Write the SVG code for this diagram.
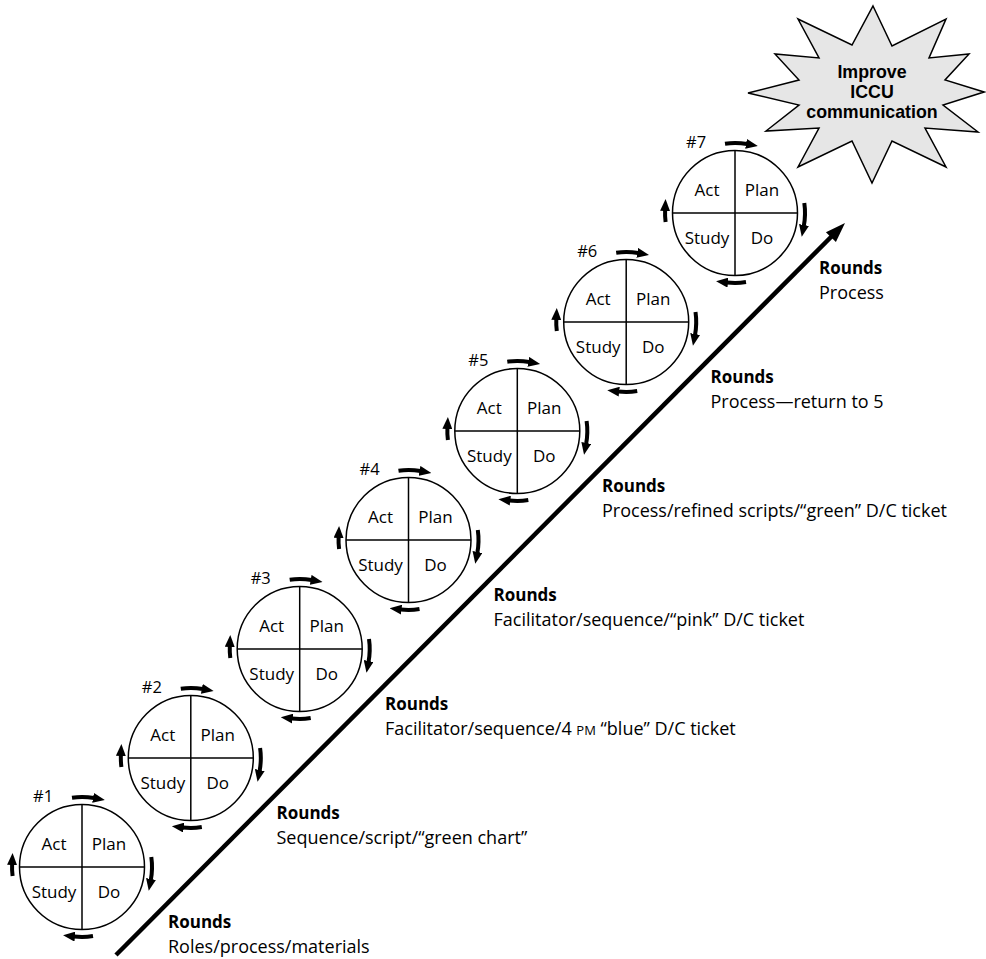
<svg xmlns="http://www.w3.org/2000/svg" width="986" height="959" viewBox="0 0 986 959">
  <style>
    text { font-family: "Open Sans", "Liberation Sans", sans-serif; fill: #000; }
    .q { font-size: 17px; text-anchor: middle; }
    .num { font-size: 16.5px; }
    .rb { font-size: 17px; font-weight: bold; }
    .rt { font-size: 18px; }
    .st { font-family: "Liberation Sans", Arial, sans-serif; font-size: 17.8px; font-weight: bold; text-anchor: middle; }
    .ring { fill: #fff; stroke: #000; stroke-width: 1.5; }
    .div { stroke: #000; stroke-width: 1.5; }
    .turn { fill: none; stroke: #000; stroke-width: 4; marker-end: url(#head); }
  </style>
  <defs>
    <marker id="head" markerWidth="12" markerHeight="10" refX="1" refY="5" orient="auto" markerUnits="userSpaceOnUse">
      <path d="M0,0 L12,5 L0,10 z" fill="#000"/>
    </marker>
    <!-- one PDSA cycle: circle, quadrants, four turning arrows -->
    <g id="pdsa">
      <circle class="ring" cx="0" cy="0" r="62.5"/>
      <line class="div" x1="0" y1="-62.5" x2="0" y2="62.5"/>
      <line class="div" x1="-62.5" y1="0" x2="62.5" y2="0"/>
      <text class="q" x="-28" y="-17">Act</text>
      <text class="q" x="27" y="-17">Plan</text>
      <text class="q" x="-28" y="31">Study</text>
      <text class="q" x="27" y="31">Do</text>
      <path class="turn" d="M -10 -69.3 A 70 70 0 0 1 12 -69"/>
      <path class="turn" d="M 69.3 -10 A 70 70 0 0 1 68.8 13"/>
      <path class="turn" d="M 11 69.1 A 70 70 0 0 1 -8 69.5"/>
      <path class="turn" d="M -69.4 9 A 70 70 0 0 1 -69.9 -3"/>
    </g>
  </defs>

  <rect width="986" height="959" fill="#fff"/>

  <!-- rising axis -->
  <g id="connectors">
    <line x1="116" y1="955" x2="832" y2="236" stroke="#000" stroke-width="4.5"/>
    <polygon points="845,223 835.9,242.1 825.9,232.3" fill="#000"/>
  </g>

  <!-- cycles #1 .. #7 -->
  <g id="cycle1" transform="translate(82,867)"><use href="#pdsa"/><text class="num" x="-49" y="-65">#1</text></g>
  <g id="cycle2" transform="translate(190.8,758)"><use href="#pdsa"/><text class="num" x="-49" y="-65">#2</text></g>
  <g id="cycle3" transform="translate(299.7,649)"><use href="#pdsa"/><text class="num" x="-49" y="-65">#3</text></g>
  <g id="cycle4" transform="translate(408.5,540)"><use href="#pdsa"/><text class="num" x="-49" y="-65">#4</text></g>
  <g id="cycle5" transform="translate(517.3,431)"><use href="#pdsa"/><text class="num" x="-49" y="-65">#5</text></g>
  <g id="cycle6" transform="translate(626.2,322)"><use href="#pdsa"/><text class="num" x="-49" y="-65">#6</text></g>
  <g id="cycle7" transform="translate(735,213)"><use href="#pdsa"/><text class="num" x="-49" y="-65">#7</text></g>

  <!-- round descriptions along the axis -->
  <g id="round1"><text class="rb" x="168" y="928">Rounds</text><text class="rt" x="168" y="952.5">Roles/process/materials</text></g>
  <g id="round2"><text class="rb" x="276.5" y="819">Rounds</text><text class="rt" x="276.5" y="843.5">Sequence/script/“green chart”</text></g>
  <g id="round3"><text class="rb" x="385" y="710">Rounds</text><text class="rt" x="385" y="734.5">Facilitator/sequence/4 <tspan font-size="13">PM</tspan> “blue” D/C ticket</text></g>
  <g id="round4"><text class="rb" x="493.5" y="601">Rounds</text><text class="rt" x="493.5" y="625.5">Facilitator/sequence/“pink” D/C ticket</text></g>
  <g id="round5"><text class="rb" x="602" y="492">Rounds</text><text class="rt" x="602" y="516.5">Process/refined scripts/“green” D/C ticket</text></g>
  <g id="round6"><text class="rb" x="710.5" y="383">Rounds</text><text class="rt" x="710.5" y="407.5">Process—return to 5</text></g>
  <g id="round7"><text class="rb" x="819" y="274">Rounds</text><text class="rt" x="819" y="298.5">Process</text></g>

  <!-- goal burst -->
  <g id="goal">
    <polygon fill="#e6e6e6" stroke="#000" stroke-width="1.5" stroke-linejoin="miter"
      points="873,6 892,46 946,19 929,58 969,54 945,80 984,92 943,105 978,132 925,128 946,167 892,141 872,183 852,141 798,167 819,128 766,131 799,105 748,93 799,80 775,54 819,58 798,19 852,45"/>
    <text class="st" x="872" y="78">Improve</text>
    <text class="st" x="872" y="98">ICCU</text>
    <text class="st" x="872" y="118">communication</text>
  </g>
</svg>
